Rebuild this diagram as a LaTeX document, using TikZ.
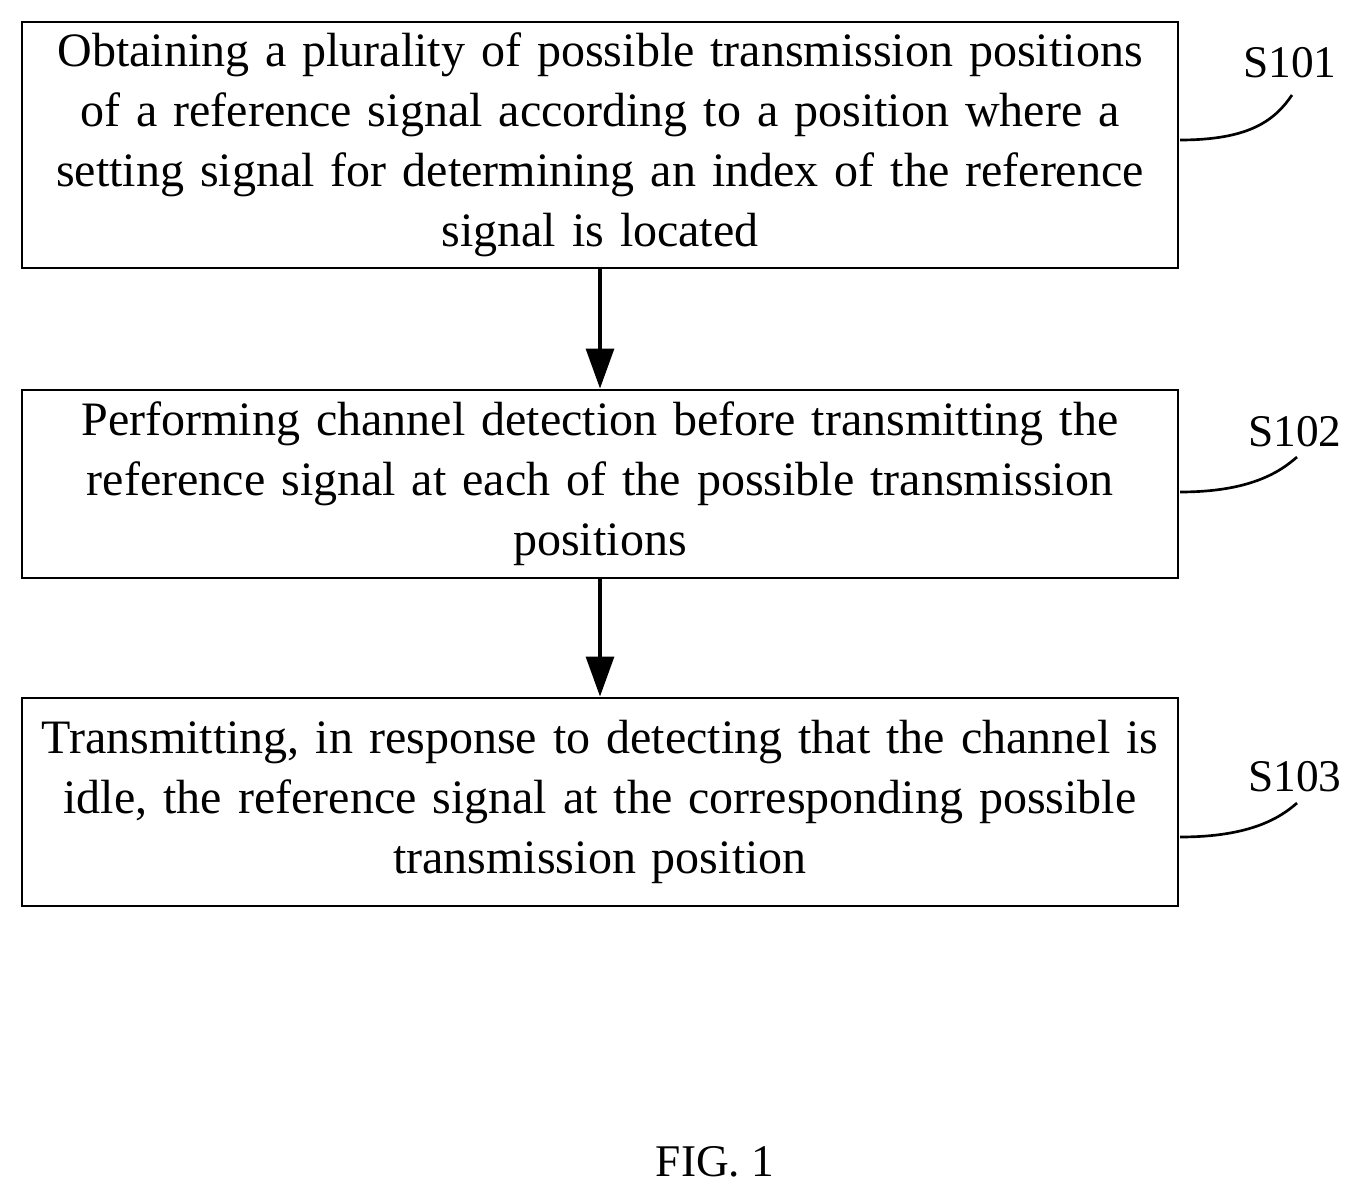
\documentclass[tikz,border=0pt]{standalone}
\usepackage{fontspec}
\setmainfont{Liberation Serif}
\usetikzlibrary{arrows.meta}
\begin{document}
\begin{tikzpicture}[x=0.75pt,y=-0.75pt,
  box/.style={draw,line width=2.2pt,minimum width=867pt,text width=860pt,align=center,inner sep=0pt,font=\fontsize{36}{45}\selectfont},
  lab/.style={font=\fontsize{34}{40}\selectfont},
  arr/.style={line width=2.4pt,-{Triangle[length=30pt,width=21pt]}},
  lead/.style={line width=2pt}]
\useasboundingbox (0,0) rectangle (1365,1198);
\node[box,minimum height=184.5pt] (b1) at (600,145) {Obtaining a plurality of possible transmission positions\\ of a reference signal according to a position where a\\ setting signal for determining an index of the reference\\ signal is located};
\node[box,minimum height=141pt] (b2) at (600,484) {Performing channel detection before transmitting the\\ reference signal at each of the possible transmission\\ positions};
\node[box,minimum height=156pt] (b3) at (600,802) {Transmitting, in response to detecting that the channel is\\ idle, the reference signal at the corresponding possible\\ transmission position};
\draw[arr] (b1.south) -- (b2.north);
\draw[arr] (b2.south) -- (b3.north);
\node[lab] (l1) at (1290,63) {S101};
\node[lab] (l2) at (1295,432) {S102};
\node[lab] (l3) at (1295,777) {S103};
\coordinate (c1) at (1180,140);
\coordinate (c2) at (1180,492);
\coordinate (c3) at (1180,837);
\draw[lead] (c1) .. controls (1250,140) and (1275,120) .. (1292,95);
\draw[lead] (c2) .. controls (1250,492) and (1280,472) .. (1297,457);
\draw[lead] (c3) .. controls (1250,837) and (1280,818) .. (1297,803);
\node[lab] (fig) at (715,1162) {FIG. 1};
\end{tikzpicture}
\end{document}
